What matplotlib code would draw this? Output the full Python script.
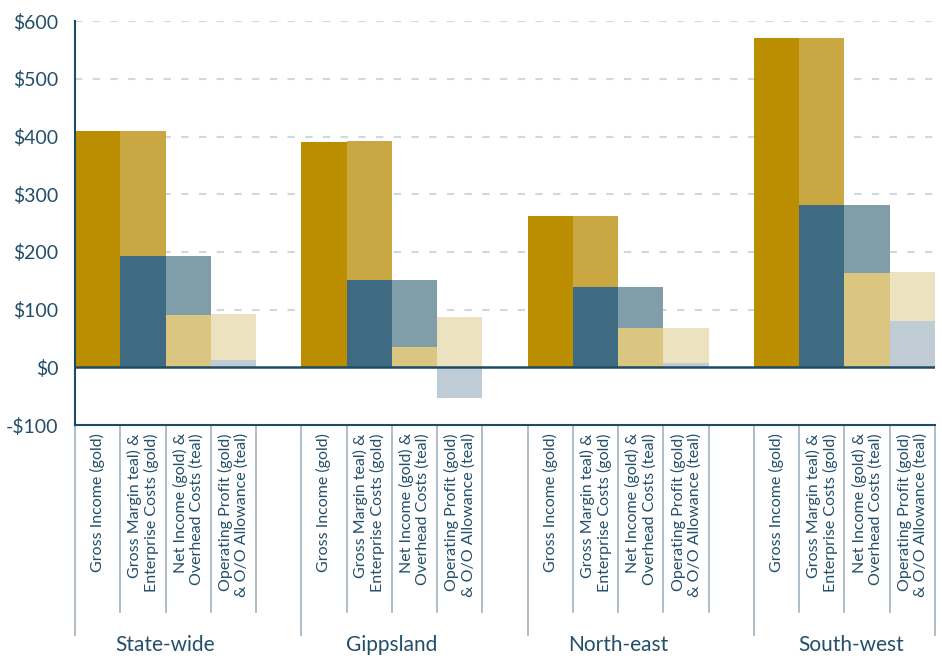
import numpy as np
import matplotlib
matplotlib.use("Agg")
import matplotlib.pyplot as plt

plt.rcParams['font.family'] = ['Lato', 'DejaVu Sans']

# values ($)
regions = ['State-wide', 'Gippsland', 'North-east', 'South-west']
gross_income = [410, 390, 262, 570]
enterprise_top = [410, 392, 262, 571]
gross_margin = [193, 151, 140, 281]
net_income = [90, 35, 68, 163]
allowance_top = [92, 88, 69, 165]
operating_profit = [12, -53, 7, 81]

cat_labels = ['Gross Income (gold)',
              'Gross Margin teal) &\nEnterprise Costs (gold)',
              'Net Income (gold) &\nOverhead Costs (teal)',
              'Operating Profit (gold)\n& O/O Allowance (teal)']

yticks = [-100, 0, 100, 200, 300, 400, 500, 600]

GOLD = '#BA8E00'
GOLD2 = '#C9A742'
TEAL = '#3F6B82'
TEAL2 = '#809DAA'
PALE = '#DBC681'
PALER = '#EDE2BF'
GREY = '#BFCCD5'
NAVY = '#1f4a63'
TXT = '#234f69'
SEP = '#9fb2be'

fig = plt.figure(figsize=(9.42, 6.59), dpi=100)
ax = fig.add_axes([0.0796, 0.355, 0.9130, 0.613])

gross_income = np.array(gross_income)
enterprise_top = np.array(enterprise_top)
gross_margin = np.array(gross_margin)
net_income = np.array(net_income)
allowance_top = np.array(allowance_top)
operating_profit = np.array(operating_profit)

base = np.arange(len(regions)) * 5
kw = dict(width=1.0, align='edge', zorder=2, linewidth=0)

# bar 1: gross income
ax.bar(base, gross_income, color=GOLD, **kw)
# bar 2: gross margin + enterprise costs
ax.bar(base + 1, gross_margin, color=TEAL, **kw)
ax.bar(base + 1, enterprise_top - gross_margin, bottom=gross_margin, color=GOLD2, **kw)
# bar 3: net income + overhead costs
ax.bar(base + 2, net_income, color=PALE, **kw)
ax.bar(base + 2, gross_margin - net_income, bottom=net_income, color=TEAL2, **kw)
# bar 4: operating profit + allowance
ax.bar(base + 3, allowance_top, color=PALER, **kw)
ax.bar(base + 3, operating_profit, color=GREY, **kw)

ax.set_xlim(0, 19)
ax.set_ylim(-100, 600)

for v in yticks[2:]:
    ax.axhline(v, color='#cdd8df', lw=1.5, ls=(0, (3.5, 5)), zorder=1)
ax.axhline(0, color=NAVY, lw=1.8, zorder=3)

ax.set_yticks(yticks)
ax.set_yticklabels([f'-${-v}' if v < 0 else f'${v}' for v in yticks],
                   fontsize=14, color=TXT)
ax.tick_params(axis='y', length=0, pad=12)
ax.set_xticks([])

for s in ['top', 'right']:
    ax.spines[s].set_visible(False)
for s in ['left', 'bottom']:
    ax.spines[s].set_color(NAVY)
    ax.spines[s].set_linewidth(1.5)

trans = ax.get_xaxis_transform()
# separators below the axis
for g in range(len(regions)):
    for j in range(1, 5):
        x = base[g] + j
        if x >= 19:
            continue
        ax.plot([x, x], [0, -0.463], transform=trans, color=SEP, lw=1.2,
                clip_on=False)
for x in [0, 5, 10, 15, 19]:
    ax.plot([x, x], [0, -0.52], transform=trans, color=SEP, lw=1.2,
            clip_on=False)

# category labels
for g in range(len(regions)):
    for j, lab in enumerate(cat_labels):
        ax.text(base[g] + j + 0.5, -0.02, lab, transform=trans, rotation=90,
                ha='center', va='top', multialignment='right',
                fontsize=11.5, color=TXT, linespacing=1.15)
    cx = base[g] + 2.0 if g < 3 else base[g] + 2.15
    ax.text(cx, -0.545, regions[g], transform=trans, ha='center',
            va='center', fontsize=15, color=TXT)

fig.savefig('out.png', dpi=100)
